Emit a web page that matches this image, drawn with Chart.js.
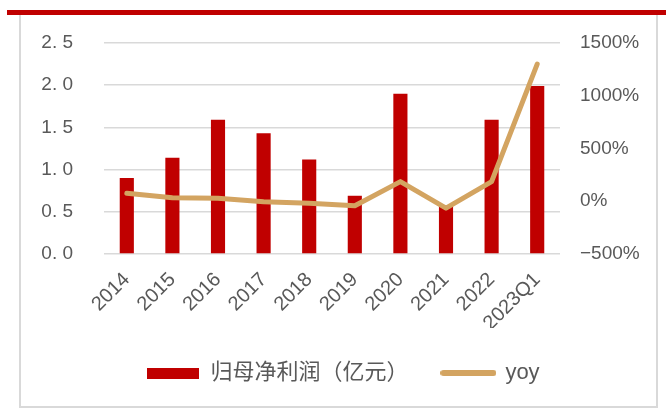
<!DOCTYPE html>
<html>
<head>
<meta charset="utf-8">
<script src="https://cdn.jsdelivr.net/npm/chart.js@4"></script>
<style>
    body { margin: 0; background: #fff; }
    #wrap { position: relative; width: 666px; height: 409px; overflow: hidden; }
    #topbar { position: absolute; left: 7px; top: 10px; width: 659px; height: 5px; background: #C00000; }
    #frame { position: absolute; left: 19px; top: 14px; width: 635px; height: 392px; border: 2px solid #d9d9d9; border-top: none; }
    #chart { position: absolute; left: 0; top: 0; }
</style>
</head>
<body>
<div id="wrap">
    <div id="frame"></div>
    <div id="topbar"></div>
    <canvas id="chart" width="666" height="409"></canvas>
</div>
<script>
const categories = ['2014', '2015', '2016', '2017', '2018', '2019', '2020', '2021', '2022', '2023Q1'];
const netProfit = [0.90, 1.14, 1.59, 1.43, 1.12, 0.69, 1.90, 0.58, 1.59, 1.99];
const yoy = [76, 34, 28, -4, -19, -42, 186, -66, 186, 1300];
const leftTicks = [0, 0.5, 1.0, 1.5, 2.0, 2.5];
const rightTicks = [-500, 0, 500, 1000, 1500];

const RED = '#C00000';
const TAN = '#D3A461';
const TEXT = '#595959';
const FONT = 'Liberation Sans, Arial, "Noto Sans CJK SC", sans-serif';

function makeSwatch(w, h, color, round) {
    const c = document.createElement('canvas');
    c.width = w;
    c.height = h;
    const g = c.getContext('2d');
    g.fillStyle = color;
    if (round) {
        g.beginPath();
        g.roundRect(0, 0, w, h, h / 2);
        g.fill();
    } else {
        g.fillRect(0, 0, w, h);
    }
    return c;
}

const barSwatch = makeSwatch(52, 11, RED, false);
const lineSwatch = makeSwatch(56, 6, TAN, true);

new Chart(document.getElementById('chart'), {
    data: {
        labels: categories,
        datasets: [
            {
                type: 'bar',
                label: '归母净利润（亿元）',
                data: netProfit,
                backgroundColor: RED,
                yAxisID: 'y',
                categoryPercentage: 1,
                barPercentage: 0.31,
                order: 2
            },
            {
                type: 'line',
                label: 'yoy',
                data: yoy,
                borderColor: TAN,
                backgroundColor: TAN,
                borderWidth: 5,
                borderCapStyle: 'round',
                borderJoinStyle: 'round',
                pointRadius: 0,
                tension: 0,
                yAxisID: 'y1',
                order: 1
            }
        ]
    },
    options: {
        responsive: false,
        animation: false,
        layout: { padding: { left: 21, right: 0, top: 43, bottom: 15 } },
        plugins: {
            tooltip: { enabled: false },
            legend: {
                position: 'bottom',
                labels: {
                    usePointStyle: true,
                    pointStyleWidth: 52,
                    padding: 34,
                    color: TEXT,
                    font: { family: FONT, size: 22 },
                    generateLabels: chart => chart.data.datasets.map((ds, i) => ({
                        text: ds.label,
                        fontColor: TEXT,
                        pointStyle: i === 0 ? barSwatch : lineSwatch,
                        fillStyle: 'transparent',
                        strokeStyle: 'transparent',
                        lineWidth: 0,
                        datasetIndex: i
                    }))
                }
            }
        },
        scales: {
            x: {
                grid: { display: false },
                border: { display: false },
                ticks: {
                    color: TEXT,
                    font: { family: FONT, size: 20 },
                    maxRotation: 45,
                    minRotation: 45,
                    autoSkip: false,
                    padding: 6
                },
                afterFit: scale => { scale.height = 74; }
            },
            y: {
                position: 'left',
                min: 0,
                max: 2.5,
                afterBuildTicks: scale => { scale.ticks = leftTicks.map(v => ({ value: v })); },
                grid: { color: '#d9d9d9', lineWidth: 1.5, drawTicks: false },
                border: { display: false },
                ticks: {
                    color: TEXT,
                    font: { family: FONT, size: 19 },
                    padding: 31,
                    callback: v => v.toFixed(1).replace('.', '. ')
                },
                afterFit: scale => { scale.width = 83; }
            },
            y1: {
                position: 'right',
                min: -500,
                max: 1500,
                afterBuildTicks: scale => { scale.ticks = rightTicks.map(v => ({ value: v })); },
                grid: { display: false, drawTicks: false },
                border: { display: false },
                ticks: {
                    color: TEXT,
                    font: { family: FONT, size: 19 },
                    padding: 20,
                    callback: v => (v < 0 ? '\u2212' + Math.abs(v) : v) + '%'
                },
                afterFit: scale => { scale.width = 106; }
            }
        }
    }
});
</script>
</body>
</html>
